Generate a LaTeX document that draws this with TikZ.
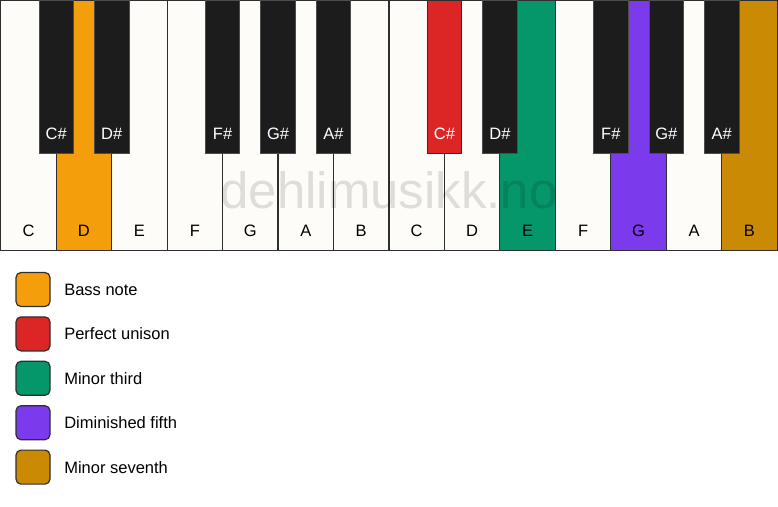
\documentclass[tikz,border=0pt]{standalone}
\usepackage{fontspec}
\setmainfont{Liberation Sans}
\usetikzlibrary{positioning}
\definecolor{keywhite}{HTML}{FDFCF8}
\definecolor{keyblack}{HTML}{1C1C1C}
\definecolor{keyedge}{HTML}{2E2E2E}
\definecolor{bassnote}{HTML}{F59E0B}
\definecolor{unison}{HTML}{DC2626}
\definecolor{minthird}{HTML}{059669}
\definecolor{dimfifth}{HTML}{7C3AED}
\definecolor{minseventh}{HTML}{CA8A04}
\begin{document}
\begin{tikzpicture}[x=1pt,y=-1pt,
        every node/.style={inner sep=0pt,font=\fontsize{16.5}{19}\selectfont},
        whitekey/.style={rectangle,draw=keyedge,line width=1.2pt,fill=keywhite,anchor=north west,outer sep=0pt,
            minimum width=55.46pt,text height=236pt,text depth=14pt}, % label sits near the bottom
        blackkey/.style={rectangle,draw=keyedge!85!white,line width=0.8pt,fill=keyblack,text=white,anchor=north,outer sep=0pt,
            minimum width=34.5pt,text height=139pt,text depth=14pt},
        swatch/.style={rectangle,draw=keyedge,line width=1.2pt,rounded corners=5pt,minimum size=34pt},
        legendtext/.style={font=\fontsize{16.5}{19}\selectfont}
    ]
        \useasboundingbox (0,0) rectangle (778,506);
        % white keys
        \node[whitekey] (c1) at (0.75,0.6) {C};
        \node[whitekey,fill=bassnote] (d1) at (c1.north east) {D};
        \node[whitekey] (e1) at (d1.north east) {E};
        \node[whitekey] (f1) at (e1.north east) {F};
        \node[whitekey] (g1) at (f1.north east) {G};
        \node[whitekey] (a1) at (g1.north east) {A};
        \node[whitekey] (b1) at (a1.north east) {B};
        \node[whitekey] (c2) at (b1.north east) {C};
        \node[whitekey] (d2) at (c2.north east) {D};
        \node[whitekey,fill=minthird] (e2) at (d2.north east) {E};
        \node[whitekey] (f2) at (e2.north east) {F};
        \node[whitekey,fill=dimfifth] (g2) at (f2.north east) {G};
        \node[whitekey] (a2) at (g2.north east) {A};
        \node[whitekey,fill=minseventh] (b2) at (a2.north east) {B};
        % black keys
        \node[blackkey] (cs1) at (c1.north east) {C\#};
        \node[blackkey] (ds1) at (d1.north east) {D\#};
        \node[blackkey] (fs1) at (f1.north east) {F\#};
        \node[blackkey] (gs1) at (g1.north east) {G\#};
        \node[blackkey] (as1) at (a1.north east) {A\#};
        \node[blackkey,fill=unison,draw=keyedge] (cs2) at (c2.north east) {C\#};
        \node[blackkey] (ds2) at (d2.north east) {D\#};
        \node[blackkey] (fs2) at (f2.north east) {F\#};
        \node[blackkey] (gs2) at (g2.north east) {G\#};
        \node[blackkey] (as2) at (a2.north east) {A\#};
        % watermark
        \node[anchor=base,font=\fontsize{51}{60}\selectfont,text=black,text opacity=0.12] (watermark) at (389,208) {dehlimusikk.no};
        % legend
        \node[swatch,fill=bassnote] (sw1) at (33,289.5) {};
        \node[swatch,fill=unison,below=9.2pt of sw1] (sw2) {};
        \node[swatch,fill=minthird,below=9.2pt of sw2] (sw3) {};
        \node[swatch,fill=dimfifth,below=9.2pt of sw3] (sw4) {};
        \node[swatch,fill=minseventh,below=9.2pt of sw4] (sw5) {};
        \node[legendtext,right=13.5pt of sw1] (lt1) {Bass note};
        \node[legendtext,right=13.5pt of sw2] (lt2) {Perfect unison};
        \node[legendtext,right=13.5pt of sw3] (lt3) {Minor third};
        \node[legendtext,right=13.5pt of sw4] (lt4) {Diminished fifth};
        \node[legendtext,right=13.5pt of sw5] (lt5) {Minor seventh};
    \end{tikzpicture}
\end{document}
